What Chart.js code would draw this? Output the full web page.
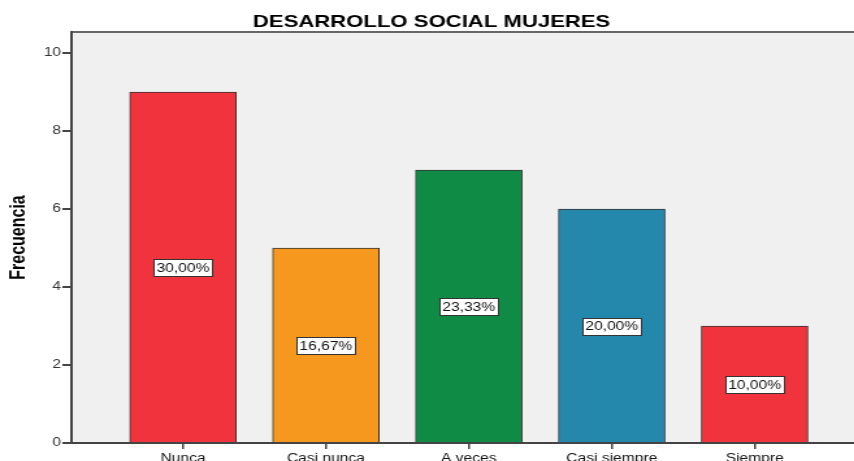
<!DOCTYPE html>
<html><head><meta charset="utf-8">
<script src="https://cdn.jsdelivr.net/npm/chart.js@4/dist/chart.umd.min.js"></script>
<style>html,body{margin:0;padding:0;background:#fff;overflow:hidden}
#outer{width:854px;height:461px;overflow:hidden;position:relative}
#wrap{width:657px;height:461px;transform:scaleX(1.3);transform-origin:0 0}</style>
</head><body><div id="outer"><div id="wrap"><canvas id="c" width="657" height="461"></canvas></div></div>
<script>
const chartTitle = 'DESARROLLO SOCIAL MUJERES';
const yTitle = 'Frecuencia';
const categories = ['Nunca', 'Casi nunca', 'A veces', 'Casi siempre', 'Siempre'];
const frequencies = [9, 5, 7, 6, 3];
const percentLabels = ['30,00%', '16,67%', '23,33%', '20,00%', '10,00%'];
const yTicks = [0, 2, 4, 6, 8, 10];

const FONT = '"Liberation Sans", Arial, sans-serif';
const bgPlugin = {
  id: 'bg',
  beforeDraw(chart) {
    const {ctx, chartArea: a} = chart;
    ctx.save();
    ctx.fillStyle = '#f0f0f0';
    ctx.fillRect(a.left, a.top, a.right - a.left, a.bottom - a.top);
    ctx.strokeStyle = '#666';
    ctx.lineWidth = 2;
    ctx.beginPath();
    ctx.moveTo(a.left, a.top); ctx.lineTo(a.right + 5, a.top);
    ctx.stroke();
    ctx.fillStyle = '#000';
    ctx.font = 'bold 17px ' + FONT;
    ctx.textAlign = 'center';
    ctx.textBaseline = 'alphabetic';
    ctx.fillText(chartTitle, 332, 27);
    ctx.restore();
  }
};
const labelPlugin = {
  id: 'lbl',
  afterDatasetsDraw(chart) {
    const {ctx} = chart;
    const xs = chart.scales.x, ys = chart.scales.y;
    ctx.save();
    ctx.font = '12px ' + FONT;
    ctx.textAlign = 'center';
    ctx.textBaseline = 'middle';
    frequencies.forEach((v, i) => {
      const cx = xs.getPixelForValue(i);
      const cy = ys.getPixelForValue(v / 2);
      const w = ctx.measureText(percentLabels[i]).width + 4;
      const h = 17;
      const x0 = Math.round(cx - w / 2) + 0.5, y0 = Math.round(cy - h / 2) + 0.5;
      ctx.fillStyle = '#fff';
      ctx.fillRect(x0, y0, Math.round(w), h);
      ctx.strokeStyle = '#333';
      ctx.lineWidth = 1;
      ctx.strokeRect(x0, y0, Math.round(w), h);
      ctx.fillStyle = '#111';
      ctx.fillText(percentLabels[i], cx, cy + 1);
    });
    ctx.restore();
  }
};

new Chart(document.getElementById('c'), {
  type: 'bar',
  data: {
    datasets: [{
      data: frequencies.map((v, i) => ({x: i, y: v})),
      backgroundColor: ['#f0333c', '#f7981e', '#0f8b46', '#2488ac', '#f0333c'],
      borderColor: '#333',
      borderWidth: 1,
      barThickness: 82
    }]
  },
  plugins: [bgPlugin, labelPlugin],
  options: {
    responsive: false,
    animation: false,
    layout: {padding: {top: 32, left: 0, right: 0, bottom: 0}},
    plugins: {legend: {display: false}, title: {display: false}, tooltip: {enabled: false}},
    scales: {
      x: {
        type: 'linear',
        offset: false,
        min: -0.78,
        max: 4.696,
        afterBuildTicks(s) { s.ticks = categories.map((c, i) => ({value: i})); },
        afterFit(s) { s.height = 18; },
        ticks: {
          callback: (v) => categories[v],
          color: '#111',
          font: {size: 12, family: FONT},
          padding: 2,
          maxRotation: 0,
          autoSkip: false
        },
        grid: {display: true, offset: false, drawOnChartArea: false, drawTicks: true, tickLength: 6, color: '#444', lineWidth: 1.5},
        border: {display: true, color: '#444', width: 2}
      },
      y: {
        min: 0,
        max: 10.54,
        afterBuildTicks(s) { s.ticks = yTicks.map(v => ({value: v})); },
        afterFit(s) { s.width = 55; },
        ticks: {
          color: '#333',
          font: {size: 12, family: FONT},
          padding: 1
        },
        grid: {display: true, drawOnChartArea: false, drawTicks: true, tickLength: 7, color: '#444', lineWidth: 2},
        border: {display: true, color: '#444', width: 2},
        title: {
          display: true,
          text: yTitle,
          color: '#000',
          font: {size: 16, weight: 'bold', family: FONT},
          padding: {top: 5, bottom: 3}
        }
      }
    }
  }
});
</script></body></html>
